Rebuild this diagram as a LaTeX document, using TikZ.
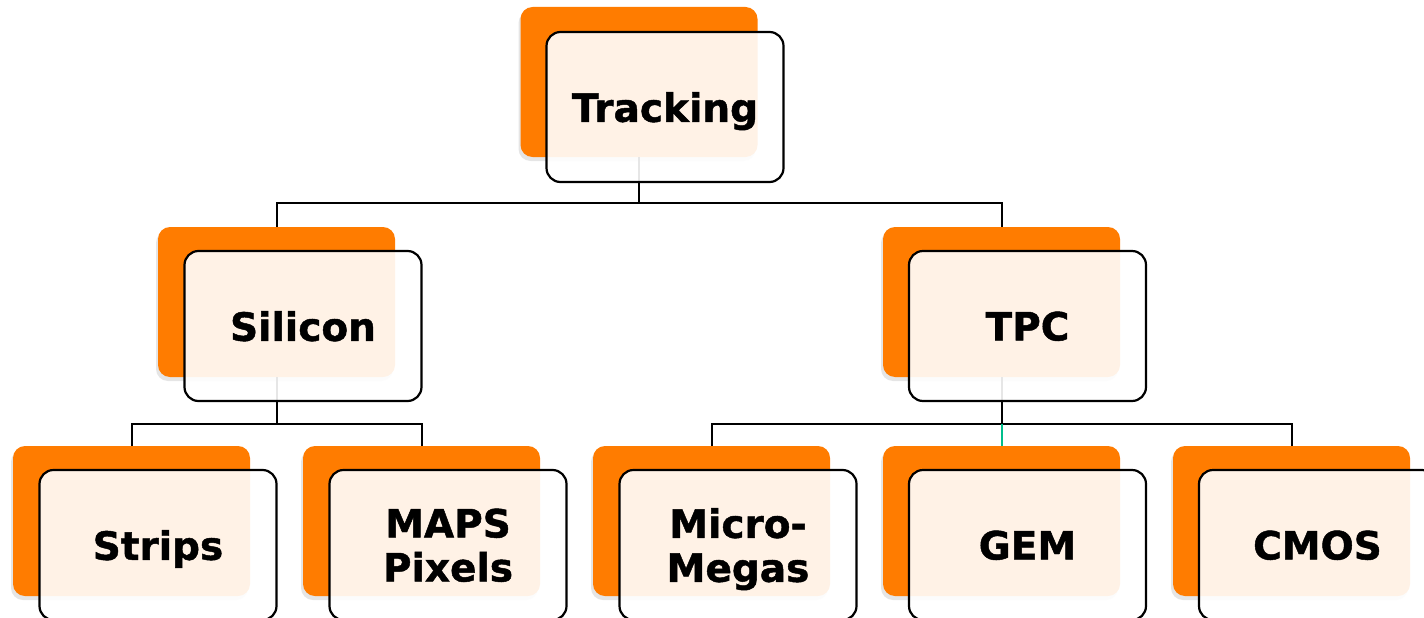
\documentclass[tikz,border=0pt]{standalone}
\usepackage{fontspec}
\setmainfont{DejaVu Sans}[BoldFeatures={FakeBold=1.2}]
\usetikzlibrary{shadows}
\definecolor{boxorange}{RGB}{255,124,0}
\definecolor{tealline}{RGB}{0,190,140}
\tikzset{
  backbox/.style={fill=boxorange, rounded corners=12pt, minimum width=237pt, minimum height=150pt,
    inner sep=0pt, drop shadow={shadow xshift=-2pt, shadow yshift=-4pt, opacity=0.2}},
  frontbox/.style={draw=black, line width=2.2pt, fill=white, fill opacity=0.9, text opacity=1,
    rounded corners=14pt, minimum width=237pt, minimum height=150pt, inner sep=0pt,
    align=center, text depth=0pt, font=\fontsize{39}{44}\selectfont\bfseries},
  conn/.style={draw=black, line width=2pt}
}
\begin{document}
\begin{tikzpicture}[x=1pt,y=-1pt]
\clip (0,0) rectangle (1424,618);
\fill[white] (0,0) rectangle (1424,618);
% back (orange) boxes
\node[backbox] (trackO) at (639,82) {};
\node[backbox] (silO) at (276.5,302) {};
\node[backbox] (tpcO) at (1001.5,302) {};
\node[backbox] (stripO) at (131.5,521) {};
\node[backbox] (mapsO) at (421.5,521) {};
\node[backbox] (microO) at (711.5,521) {};
\node[backbox] (gemO) at (1001.5,521) {};
\node[backbox] (cmosO) at (1291.5,521) {};
% connectors
\coordinate (bar1) at (639,203);
\coordinate (bar2) at (276.5,424);
\coordinate (bar3) at (1001.5,424);
\draw[conn] (trackO.south) -- (bar1);
\draw[conn] (bar1) -| (silO.north);
\draw[conn] (bar1) -| (tpcO.north);
\draw[conn] (silO.south) -- (bar2);
\draw[conn] (bar2) -| (stripO.north);
\draw[conn] (bar2) -| (mapsO.north);
\draw[conn] (tpcO.south) -- (bar3);
\draw[conn] (bar3) -| (microO.north);
\draw[conn] (bar3) -| (cmosO.north);
\draw[conn, draw=tealline] (bar3) -- (gemO.north);
% front boxes with text
\node[frontbox] (track) at (665,107) {Tracking};
\node[frontbox] (sil) at (303,326) {Silicon};
\node[frontbox] (tpc) at (1027.5,326) {TPC};
\node[frontbox] (strip) at (158,545) {Strips};
\node[frontbox] (maps) at (448,545) {MAPS\\Pixels};
\node[frontbox] (micro) at (738,545) {Micro-\\Megas};
\node[frontbox] (gem) at (1027.5,545) {GEM};
\node[frontbox] (cmos) at (1317.5,545) {CMOS};
\end{tikzpicture}
\end{document}
